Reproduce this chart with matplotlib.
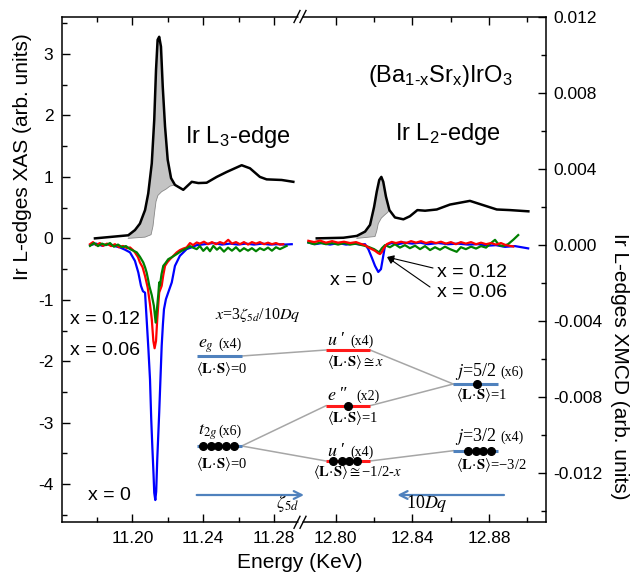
import matplotlib
matplotlib.use('Agg')
import numpy as np
import matplotlib.pyplot as plt
from matplotlib.ticker import FixedLocator, MultipleLocator, FuncFormatter

plt.rcParams['font.family'] = ['Liberation Sans', 'DejaVu Sans']
plt.rcParams['mathtext.fontset'] = 'custom'
plt.rcParams['mathtext.rm'] = 'Liberation Sans'
plt.rcParams['mathtext.it'] = 'Liberation Sans:italic'
plt.rcParams['mathtext.bf'] = 'Liberation Sans:bold'
plt.rcParams['axes.unicode_minus'] = False

# ---- XAS (left axis units) ----
l3_E = [11.1788, 11.1901, 11.1976, 11.2014, 11.2042, 11.2071, 11.2089, 11.2109,
        11.2123, 11.2133, 11.2142, 11.2151, 11.2161, 11.2171, 11.2184, 11.2199,
        11.2218, 11.2240, 11.2287, 11.2335, 11.2372, 11.2419, 11.2476, 11.2532,
        11.2617, 11.2664, 11.2720, 11.2758, 11.2843, 11.2909]
l3_xas = [0.0, 0.03, 0.05, 0.135, 0.24, 0.46, 0.73, 1.22,
          1.93, 2.74, 3.23, 3.28, 3.12, 2.47, 1.82, 1.28,
          0.98, 0.87, 0.79, 0.92, 0.90, 0.905, 1.0, 1.08,
          1.19, 1.14, 1.0, 0.96, 0.95, 0.92]
l3_step_E = [11.1976, 11.2071, 11.2105, 11.2116, 11.2124, 11.2133, 11.2144,
             11.2165, 11.2189, 11.2212, 11.2240]
l3_step = [0.0, 0.02, 0.06, 0.20, 0.40, 0.60, 0.70, 0.76, 0.80, 0.85, 0.87]

l2_E = [12.7901, 12.8040, 12.8110, 12.8153, 12.8179, 12.8200, 12.8214, 12.8227,
        12.8238, 12.8248, 12.8262, 12.8280, 12.8309, 12.8353, 12.8387, 12.8426,
        12.8466, 12.8527, 12.8596, 12.8700, 12.8770, 12.8840, 12.8909, 12.9005]
l2_xas = [0.0, 0.01, 0.04, 0.11, 0.22, 0.51, 0.76, 0.95,
          1.00, 0.92, 0.68, 0.46, 0.34, 0.31, 0.36, 0.46,
          0.45, 0.47, 0.55, 0.61, 0.54, 0.47, 0.46, 0.44]
l2_step_E = [12.8110, 12.8205, 12.8214, 12.8222, 12.8238, 12.8255, 12.8270, 12.8280]
l2_step = [0.0, 0.03, 0.12, 0.24, 0.33, 0.38, 0.42, 0.46]

# ---- XMCD (right axis units) ----
l3_blue_E = [11.1760, 11.1794, 11.1828, 11.1862, 11.1895, 11.1929, 11.1958, 11.1986,
             11.2014, 11.2033, 11.2048, 11.2059, 11.2071, 11.2080, 11.2090, 11.2099,
             11.2106, 11.2112, 11.2119, 11.2123, 11.2129, 11.2134, 11.2140, 11.2151,
             11.2158, 11.2165, 11.2172, 11.2178, 11.2189, 11.2202, 11.2222, 11.2240,
             11.2268, 11.2306, 11.2335, 11.2363, 11.2410, 11.2457, 11.2506, 11.2551,
             11.2596, 11.2641, 11.2687, 11.2732, 11.2777, 11.2822, 11.2862, 11.2900]
l3_blue = [0.0, 0.00008, -0.00003, 0.00005, -0.00004, -0.00012, -0.00024, -0.00038,
           -0.00083, -0.00144, -0.00214, -0.00242, -0.00250, -0.00389, -0.00547, -0.00705,
           -0.00916, -0.01056, -0.01205, -0.01302, -0.01340, -0.01295, -0.01126, -0.00881,
           -0.00705, -0.00530, -0.00416, -0.00337, -0.00284, -0.00249, -0.00196, -0.00109,
           -0.00056, -0.00021, -0.00011, 0.0, 0.00005, 0.00011, 0.00003, 0.00008,
           0.00003, 0.00008, 0.00003, 0.00008, 0.00003, 0.00005, 0.00003, 0.00005]

l3_red_E = [11.1760, 11.1777, 11.1794, 11.1816, 11.1833, 11.1856, 11.1879, 11.1901,
            11.1924, 11.1946, 11.1969, 11.1986, 11.2003, 11.2014, 11.2031, 11.2042,
            11.2057, 11.2071, 11.2086, 11.2099, 11.2109, 11.2118, 11.2125, 11.2133,
            11.2140, 11.2146, 11.2151, 11.2165, 11.2174, 11.2184, 11.2198, 11.2212,
            11.2229, 11.2250, 11.2268, 11.2287, 11.2306, 11.2325, 11.2342, 11.2363,
            11.2381, 11.2404, 11.2427, 11.2449, 11.2472, 11.2494, 11.2517, 11.2541,
            11.2562, 11.2585, 11.2607, 11.2630, 11.2653, 11.2675, 11.2698, 11.2720,
            11.2743, 11.2766, 11.2788, 11.2811, 11.2833, 11.2852]
l3_red = [0.00005, 0.00016, 0.0, 0.00011, -0.00004, 0.00008, -0.00005, 0.00005,
          -0.00011, -0.00004, -0.00016, -0.00012, -0.00026, -0.00038, -0.00063, -0.00091,
          -0.00116, -0.00162, -0.00223, -0.00311, -0.00389, -0.00504, -0.00542, -0.00504,
          -0.00389, -0.00311, -0.00249, -0.00214, -0.00158, -0.00109, -0.00089, -0.00074,
          -0.00058, -0.00038, -0.00026, -0.00018, -0.00012, 0.00011, 0.0, 0.00014,
          0.00008, 0.00018, 0.00005, 0.00016, 0.00005, 0.00016, 0.00008, 0.00028,
          0.00008, 0.00016, 0.00005, 0.00016, 0.00003, 0.00016, 0.00008, 0.00016,
          0.00005, 0.00013, 0.00005, 0.00011, 0.00003, 0.00005]

l3_green_E = [11.1760, 11.1783, 11.1805, 11.1828, 11.1850, 11.1873, 11.1895, 11.1918,
              11.1941, 11.1963, 11.1986, 11.2005, 11.2024, 11.2042, 11.2061, 11.2071,
              11.2080, 11.2088, 11.2095, 11.2109, 11.2121, 11.2131, 11.2140, 11.2146,
              11.2151, 11.2155, 11.2164, 11.2174, 11.2186, 11.2202, 11.2223, 11.2250,
              11.2274, 11.2306, 11.2325, 11.2342, 11.2363, 11.2381, 11.2400, 11.2421,
              11.2438, 11.2457, 11.2477, 11.2494, 11.2517, 11.2540, 11.2562, 11.2585,
              11.2607, 11.2630, 11.2653, 11.2675, 11.2698, 11.2720, 11.2743, 11.2766,
              11.2788, 11.2811, 11.2833, 11.2871]
l3_green = [-0.00004, 0.00011, -0.00005, 0.00008, 0.0, 0.00011, -0.00008, 0.00003,
            -0.00011, -0.00005, -0.00021, -0.00029, -0.00038, -0.00061, -0.00091, -0.00116,
            -0.00144, -0.00179, -0.00214, -0.00263, -0.00319, -0.00407, -0.00319, -0.00258,
            -0.00196, -0.00214, -0.00153, -0.00109, -0.00095, -0.00074, -0.00063, -0.00047,
            -0.00032, -0.00017, -0.00005, -0.00013, -0.00021, -0.00005, -0.00030, -0.00011,
            -0.00032, -0.00004, -0.00024, -0.00011, -0.00034, -0.00013, -0.00029, -0.00011,
            -0.00032, -0.00016, -0.00029, -0.00016, -0.00032, -0.00016, -0.00026, -0.00013,
            -0.00029, -0.00011, -0.00021, -0.00004]

l2_blue_E = [12.7857, 12.7892, 12.7929, 12.7970, 12.8014, 12.8054, 12.8095, 12.8127,
             12.8153, 12.8170, 12.8188, 12.8205, 12.8222, 12.8236, 12.8248, 12.8257,
             12.8273, 12.8292, 12.8325, 12.8361, 12.8398, 12.8440, 12.8481, 12.8535,
             12.8586, 12.8638, 12.8690, 12.8742, 12.8794, 12.8836, 12.8883, 12.8935,
             12.9004]
l2_blue = [0.00014, 0.00005, 0.00011, 0.00003, 0.00011, 0.00003, 0.00008, 0.00003,
           0.00005, -0.00021, -0.00065, -0.00109, -0.00141, -0.00126, -0.00056, -0.00004,
           0.00005, 0.00011, 0.00005, 0.00013, 0.00008, 0.00013, 0.00005, 0.00011,
           0.00005, 0.00008, 0.00003, 0.00005, -0.00003, 0.0, -0.00009, -0.00005,
           -0.00017]

l2_red_E = [12.7857, 12.7887, 12.7918, 12.7949, 12.7981, 12.8012, 12.8043, 12.8075,
            12.8106, 12.8136, 12.8153, 12.8170, 12.8188, 12.8205, 12.8221, 12.8231,
            12.8240, 12.8248, 12.8266, 12.8292, 12.8314, 12.8341, 12.8367, 12.8393,
            12.8419, 12.8445, 12.8471, 12.8497, 12.8523, 12.8549, 12.8575, 12.8601,
            12.8627, 12.8653, 12.8679, 12.8706, 12.8732, 12.8758, 12.8784, 12.8810,
            12.8836, 12.8862, 12.8888, 12.8926]
l2_red = [0.00023, 0.00016, 0.00024, 0.00013, 0.00021, 0.00013, 0.00018, 0.00011,
          0.00016, 0.00005, 0.0, -0.00012, -0.00021, -0.00030, -0.00042, -0.00047,
          -0.00037, -0.00021, 0.00005, 0.00017, 0.00011, 0.00018, 0.00011, 0.00021,
          0.00013, 0.00021, 0.00011, 0.00018, 0.00011, 0.00018, 0.00008, 0.00016,
          0.00005, 0.00016, 0.00008, 0.00016, 0.00005, 0.00013, 0.00005, 0.00011,
          0.00003, 0.00011, 0.0, -0.00007]

l2_green_E = [12.7857, 12.7887, 12.7918, 12.7949, 12.7981, 12.8012, 12.8043, 12.8075,
              12.8106, 12.8137, 12.8168, 12.8200, 12.8226, 12.8241, 12.8257, 12.8283,
              12.8309, 12.8335, 12.8361, 12.8387, 12.8414, 12.8440, 12.8466, 12.8492,
              12.8518, 12.8544, 12.8570, 12.8596, 12.8631, 12.8653, 12.8679, 12.8706,
              12.8732, 12.8758, 12.8784, 12.8810, 12.8831, 12.8852, 12.8873, 12.8899,
              12.8926, 12.8952]
l2_green = [0.00014, 0.00005, 0.00013, 0.00005, 0.00011, 0.00003, 0.00011, 0.00003,
            0.00008, 0.0, -0.00008, -0.00021, -0.00038, -0.00016, 0.0, -0.00011,
            0.00005, -0.00013, 0.0, -0.00016, -0.00003, -0.00021, -0.00005, -0.00026,
            -0.00011, -0.00024, -0.00008, -0.00021, -0.00035, -0.00011, -0.00021, -0.00008,
            -0.00018, -0.00005, -0.00013, 0.00011, 0.00028, 0.0, -0.00005, 0.00005,
            0.00028, 0.00053]

xas_ylim = (-4.62, 3.61)
xmcd_ylim = (-0.01457, 0.01202)
left_xlim = (11.16, 11.2958)
right_xlim = (12.7824, 12.9097)

# ---- energy level scheme (figure pixels, y downwards) ----
lev_x0 = [196.7, 196.7, 326, 326, 326, 453.3, 453.3]
lev_x1 = [241.7, 241.7, 370, 370, 370, 498.3, 498.3]
lev_y = [356, 446, 350, 405.7, 461, 384, 450.7]
lev_col = ['#4f81bd', '#4f81bd', '#ff1a1a', '#ff1a1a', '#ff1a1a', '#4f81bd', '#4f81bd']
lev_dots = [[], [202.7, 210.7, 218.3, 226, 234], [], [347.7],
            [333.3, 341.7, 349.3, 357.3], [476.7], [468.3, 476, 483.3, 491]]
links = [(0, 2), (1, 3), (1, 4), (2, 5), (3, 5), (4, 6)]
lev_sym = [r'$e_g$', r'$t_{2g}$', r'$u$ ' + '\u2032', r'$e$ ' + '\u2033', r'$u$ ' + '\u2032',
           r'$j$=5/2', r'$j$=3/2']
lev_sym_xy = [(198, 348), (198, 435), (327, 345), (327, 400), (327, 456),
              (455, 376), (455, 441)]
lev_mult = ['(x4)', '(x6)', '(x4)', '(x2)', '(x4)', '(x6)', '(x4)']
lev_mult_x = [218, 218, 350, 356, 350.7, 500, 500]
LS = r'$\langle\mathbf{L}\!\cdot\!\mathbf{S}\rangle$'
lev_ls = [LS + '=0', LS + '=0', LS + r'$\cong x$', LS + '=1',
          LS + r'$\cong$' + '\u22121/2-' + r'$x$', LS + '=1', LS + '=\u22123/2']
lev_ls_xy = [(196, 373), (196, 468), (327, 366), (327, 422), (313, 476),
             (456, 399), (456, 469)]

fig = plt.figure(figsize=(6.31, 5.76), dpi=100)
W, H = 631.0, 576.0
top_px, bot_px = 16.5, 522.3
ax1 = fig.add_axes([61.7 / W, (H - bot_px) / H, (302 - 61.7) / W, (bot_px - top_px) / H])
ax2 = fig.add_axes([302 / W, (H - bot_px) / H, (546 - 302) / W, (bot_px - top_px) / H])
ax1m = ax1.twinx()
ax2m = ax2.twinx()

# XAS with shaded white-line area above the edge step
for ax, E, y, sE, s in [(ax1, l3_E, l3_xas, l3_step_E, l3_step),
                        (ax2, l2_E, l2_xas, l2_step_E, l2_step)]:
    E = np.array(E)
    y = np.array(y)
    m = (E >= sE[0]) & (E <= sE[-1])
    ax.fill(np.concatenate([E[m], sE[::-1]]), np.concatenate([y[m], s[::-1]]),
            color='#c4c4c4', lw=0, zorder=1)
    ax.plot(sE, s, color='#888888', lw=0.6, zorder=2)
    ax.plot(E, y, color='black', lw=1.8, zorder=3)

# XMCD
for ax, curves in [(ax1m, [(l3_blue_E, l3_blue, '#0000ff'), (l3_red_E, l3_red, '#ff0000'),
                           (l3_green_E, l3_green, '#008000')]),
                   (ax2m, [(l2_blue_E, l2_blue, '#0000ff'), (l2_green_E, l2_green, '#008000'),
                           (l2_red_E, l2_red, '#ff0000')])]:
    for E, y, c in curves:
        ax.plot(E, y, color=c, lw=1.6)

for ax in (ax1, ax2):
    ax.set_ylim(*xas_ylim)
for ax in (ax1m, ax2m):
    ax.set_ylim(*xmcd_ylim)
ax1.set_xlim(*left_xlim)
ax2.set_xlim(*right_xlim)

ax1.xaxis.set_major_locator(FixedLocator([11.20, 11.24, 11.28]))
ax1.xaxis.set_minor_locator(FixedLocator([11.18, 11.22, 11.26]))
ax2.xaxis.set_major_locator(FixedLocator([12.80, 12.84, 12.88]))
ax2.xaxis.set_minor_locator(FixedLocator([12.82, 12.86, 12.90]))
ax1.xaxis.set_major_formatter(FuncFormatter(lambda v, p: f'{v:.2f}'))
ax2.xaxis.set_major_formatter(FuncFormatter(lambda v, p: f'{v:.2f}'))
ax1.yaxis.set_major_locator(MultipleLocator(1))
ax1.yaxis.set_minor_locator(MultipleLocator(0.5))
ax2m.yaxis.set_major_locator(FixedLocator([-0.012, -0.008, -0.004, 0.0, 0.004, 0.008, 0.012]))
ax2m.yaxis.set_minor_locator(FixedLocator([-0.014, -0.010, -0.006, -0.002, 0.002, 0.006, 0.010]))
ax2m.yaxis.set_major_formatter(FuncFormatter(lambda v, p: f'{v:.3f}' if abs(v) > 1e-9 else '0.000'))

lw_sp = 1.1
ax1.spines['right'].set_visible(False)
ax2.spines['left'].set_visible(False)
ax2.spines['right'].set_visible(False)
for sp in ('left', 'top', 'bottom'):
    ax2m.spines[sp].set_visible(False)
for sp in ('left', 'top', 'bottom', 'right'):
    ax1m.spines[sp].set_visible(False)
for ax in (ax1, ax2, ax2m):
    for sp in ax.spines.values():
        sp.set_linewidth(lw_sp)
ax1m.set_yticks([])

for ax in (ax1, ax2):
    ax.tick_params(axis='x', which='both', direction='in', top=True, bottom=True,
                   labelsize=12.5, width=1, pad=6)
    ax.tick_params(axis='x', which='major', length=5.5)
    ax.tick_params(axis='x', which='minor', length=3.5)
ax1.tick_params(axis='y', which='both', direction='in', right=False, labelsize=12.5,
                width=1, pad=6)
ax1.tick_params(axis='y', which='major', length=5.5)
ax1.tick_params(axis='y', which='minor', length=3.5)
ax2.tick_params(axis='y', which='both', left=False, right=False, labelleft=False)
ax2m.tick_params(axis='y', which='both', direction='in', labelsize=12.5, width=1, pad=5)
ax2m.tick_params(axis='y', which='major', length=5.5)
ax2m.tick_params(axis='y', which='minor', length=3.3)

# overlay in figure pixels
ov = fig.add_axes([0, 0, 1, 1], zorder=10)
ov.set_xlim(0, W)
ov.set_ylim(H, 0)
ov.set_axis_off()
ov.patch.set_alpha(0)

# axis break marks
for yb in (top_px, bot_px):
    ov.plot([297.5, 301.5], [yb, yb], color='white', lw=2.5, solid_capstyle='butt')
    for xb in (297, 303):
        ov.plot([xb - 3, xb + 3], [yb + 6, yb - 6], color='black', lw=1)

fs_lab = 15
ov.text(23, 157, 'Ir L-edges XAS (arb. units)', rotation=90, ha='center', va='center',
        fontsize=fs_lab)
ov.text(620, 366, 'Ir L-edges XMCD (arb. units)', rotation=270, ha='center', va='center',
        fontsize=fs_lab)
ov.text(300, 562, 'Energy (KeV)', ha='center', va='center', fontsize=fs_lab)

ov.text(185, 143, r'Ir L$_3$-edge', fontsize=17, va='baseline')
ov.text(395, 140, r'Ir L$_2$-edge', fontsize=17, va='baseline')
formula = r'(Ba$_{\mathrm{1' + '\u2010' + r'x}}$Sr$_{\mathrm{x}}$)IrO$_3$'
ov.text(368, 82, formula, fontsize=17, va='baseline')

fs_x = 14
ov.text(70, 324, 'x = 0.12', fontsize=fs_x, va='baseline')
ov.text(70, 355, 'x = 0.06', fontsize=fs_x, va='baseline')
ov.text(88, 500, 'x = 0', fontsize=fs_x, va='baseline')
ov.text(330, 285, 'x = 0', fontsize=fs_x, va='baseline')
ov.text(437, 277, 'x = 0.12', fontsize=fs_x, va='baseline')
ov.text(437, 297, 'x = 0.06', fontsize=fs_x, va='baseline')
for tail in [(433, 268), (430, 287)]:
    ov.annotate('', xy=(387, 257), xytext=tail,
                arrowprops=dict(arrowstyle='-|>', color='black', lw=0.8,
                                mutation_scale=10, shrinkA=0, shrinkB=0))

# level scheme
serif = 'Liberation Serif'
for a, b in links:
    ov.plot([lev_x1[a], lev_x0[b]], [lev_y[a], lev_y[b]], color='#a6a6a6', lw=1.1, zorder=1)
for i in range(len(lev_y)):
    ov.plot([lev_x0[i], lev_x1[i]], [lev_y[i], lev_y[i]], color=lev_col[i], lw=2.2,
            solid_capstyle='butt', zorder=2)
    if lev_dots[i]:
        ov.plot(lev_dots[i], [lev_y[i]] * len(lev_dots[i]), 'o', color='black', ms=5.5,
                zorder=3)
    ov.text(lev_sym_xy[i][0], lev_sym_xy[i][1], lev_sym[i], fontsize=13, va='baseline',
            family=serif, math_fontfamily='stix')
    ov.text(lev_mult_x[i], lev_sym_xy[i][1], lev_mult[i], fontsize=10, va='baseline',
            family=serif)
    ov.text(lev_ls_xy[i][0], lev_ls_xy[i][1], lev_ls[i], fontsize=10.5, va='baseline',
            family=serif, math_fontfamily='stix')

ov.text(215, 319, r'$x$=3$\zeta_{5d}$/10$Dq$', fontsize=11.5, va='baseline', family=serif,
        math_fontfamily='stix')
ov.annotate('', xy=(304, 495), xytext=(196.7, 495),
            arrowprops=dict(arrowstyle='->', color='#4f81bd', lw=1.6, mutation_scale=14,
                            shrinkA=0, shrinkB=0))
ov.annotate('', xy=(397.3, 495), xytext=(504, 495),
            arrowprops=dict(arrowstyle='->', color='#4f81bd', lw=1.6, mutation_scale=14,
                            shrinkA=0, shrinkB=0))
ov.text(276, 508, r'$\zeta_{5d}$', fontsize=13, va='baseline', math_fontfamily='stix')
ov.text(406, 508, r'10$Dq$', fontsize=13, va='baseline', family=serif,
        math_fontfamily='stix')

fig.savefig('out.png', dpi=100)
